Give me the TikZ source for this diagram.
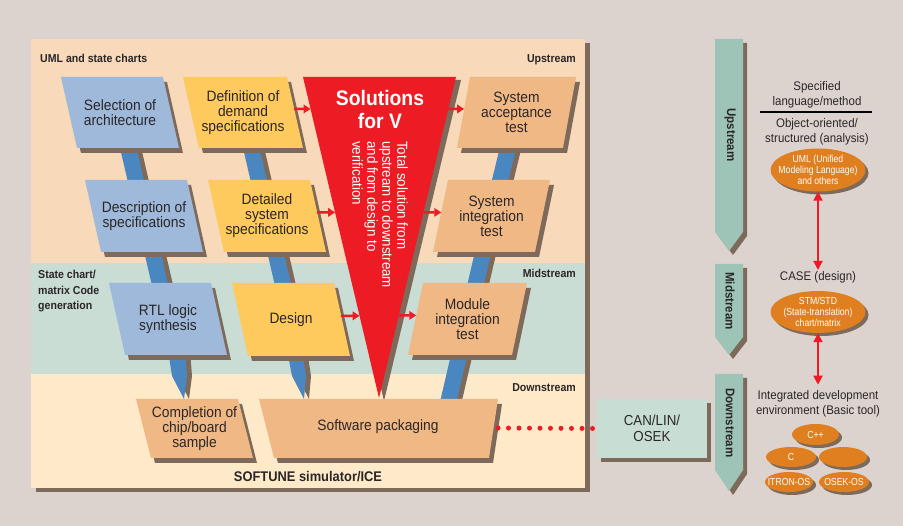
\documentclass[tikz,border=0pt]{standalone}
\usepackage{fontspec}
\setmainfont{Liberation Sans}[FakeStretch=0.92]
\newfontfamily\ovalfont{Liberation Sans}[FakeStretch=0.85]
\usetikzlibrary{shapes.geometric,arrows.meta,shadows}
\definecolor{pagegrey}{HTML}{DCD3CF}
\definecolor{upband}{HTML}{F8D9B9}
\definecolor{midband}{HTML}{C9DDD5}
\definecolor{downband}{HTML}{FEEAC9}
\definecolor{archblue}{HTML}{9FB9DB}
\definecolor{specyellow}{HTML}{FEC95D}
\definecolor{testorange}{HTML}{F0B884}
\definecolor{shadowbrown}{HTML}{7D6A5B}
\definecolor{barblue}{HTML}{4A87C1}
\definecolor{vred}{HTML}{ED1C24}
\definecolor{streamteal}{HTML}{9DC4B6}
\definecolor{busgreen}{HTML}{C8DDD4}
\definecolor{ovalorange}{HTML}{E07F1F}
\definecolor{inkgrey}{HTML}{2A2627}
\pgfdeclarelayer{bands}
\pgfdeclarelayer{bars}
\pgfsetlayers{bands,bars,main}
% name, x, y (top left), width, height, slant of the bottom, colour, text
\newcommand{\slantbox}[8]{%
  \fill[shadowbrown,shift={(4,5)}] (#2,#3) -- ++(#4,0) -- ++(#6,#5) -- ++(-#4,0) -- cycle;
  \fill[#7] (#2,#3) -- ++(#4,0) -- ++(#6,#5) -- ++(-#4,0) -- cycle;
  \node[boxtext] (#1) at ({#2+0.5*#4+0.5*(#6)},{#3+0.5*#5}) {#8};
  \coordinate (#1-e) at ({#2+#4+0.45*(#6)},{#3+0.45*#5});
  \coordinate (#1-w) at ({#2+0.45*(#6)},{#3+0.45*#5});
}

\begin{document}
\begin{tikzpicture}[x=1pt,y=-1pt,
  boxtext/.style={align=center, inner sep=0pt, text=inkgrey, font=\fontsize{15}{15}\selectfont},
  bandlabel/.style={inner sep=0pt, text=inkgrey, font=\fontsize{11.5}{15.5}\selectfont\bfseries},
  streamlabel/.style={rotate=-90, inner sep=0pt, text=inkgrey, font=\fontsize{12.5}{14}\selectfont\bfseries},
  notetext/.style={align=center, inner sep=1pt, text=inkgrey, font=\fontsize{12.5}{14.5}\selectfont},
  bar/.style={draw=barblue, line width=16pt},
  barshadow/.style={draw=shadowbrown, line width=16pt, transform canvas={shift={(5pt,-1pt)}}},
  linkarrow/.style={draw=vred, line width=2.4pt, -{Triangle[length=7pt,width=8.5pt]}},
  dblarrow/.style={draw=vred, line width=2pt, {Triangle[length=9pt,width=9pt]}-{Triangle[length=9pt,width=9pt]}},
  dotline/.style={draw=vred, line width=5pt, line cap=round, dash pattern=on 0pt off 10.5pt},
  tooloval/.style={ellipse, fill=ovalorange, inner sep=0pt, general shadow={fill=shadowbrown, shadow xshift=3pt, shadow yshift=-3pt}},
  ovaltext/.style={align=center, inner sep=0pt, text=white, font=\ovalfont\fontsize{10.2}{11}\selectfont},
  busbox/.style={rectangle, fill=busgreen, minimum width=110pt, minimum height=59pt, align=center, text=inkgrey, font=\fontsize{14.5}{16}\selectfont, general shadow={fill=shadowbrown, shadow xshift=4pt, shadow yshift=-4pt}}
]
\begin{pgfonlayer}{bands}
\fill[pagegrey] (0,0) rectangle (903,526);
\fill[shadowbrown] (36,43) rectangle (590,492);
\fill[upband] (31,39) rectangle (585,263);
\fill[midband] (31,263) rectangle (585,374);
\fill[downband] (31,374) rectangle (585,488);
\end{pgfonlayer}

\node[bandlabel, anchor=west] (umllbl) at (40,58) {UML and state charts};
\node[bandlabel, anchor=east] (uplbl) at (576,60) {Upstream};
\node[bandlabel, anchor=north west, align=left] (codelbl) at (38,270) {State chart/\\matrix Code\\generation};
\node[bandlabel, anchor=east] (midlbl) at (576,273) {Midstream};
\node[bandlabel, anchor=east] (downlbl) at (576,388) {Downstream};
\node[inner sep=0pt, text=inkgrey, font=\fontsize{14}{16}\selectfont\bfseries] (simlbl) at (308,477) {SOFTUNE simulator/ICE};

\fill[shadowbrown,shift={(5,3)}] (303,77) -- (456,77) -- (379,398) -- cycle;
\fill[vred] (303,77) -- (456,77) -- (379,398) -- cycle;
\node[align=center, inner sep=0pt, text=white, font=\fontsize{21}{23}\selectfont\bfseries] (soltitle) at (380,109) {Solutions\\for V};
\node[rotate=-90, anchor=west, align=left, inner sep=0pt, text=white, font=\fontsize{14.5}{15}\selectfont] (soldesc) at (380,141) {Total solution from\\upstream to downstream\\and from design to\\verification};

\slantbox{selarch}{61}{77}{102}{71}{16}{archblue}{Selection of\\architecture}
\slantbox{defdem}{183}{77}{104}{71}{16}{specyellow}{Definition of\\demand\\specifications}
\slantbox{descspec}{85}{180}{102}{72}{16}{archblue}{Description of\\specifications}
\slantbox{detspec}{208}{180}{102}{72}{16}{specyellow}{Detailed\\system\\specifications}
\slantbox{rtlsyn}{109}{283}{102}{72}{16}{archblue}{RTL logic\\synthesis}
\slantbox{design}{232}{283}{102}{73}{16}{specyellow}{Design}
\slantbox{chipboard}{136}{399}{102}{59}{15}{testorange}{Completion of\\chip/board\\sample}
\slantbox{sysacc}{470}{77}{106}{71}{-13}{testorange}{System\\acceptance\\test}
\slantbox{sysint}{448}{180}{102}{72}{-15}{testorange}{System\\integration\\test}
\slantbox{modint}{423}{283}{104}{72}{-15}{testorange}{Module\\integration\\test}

\fill[shadowbrown,shift={(4,5)}] (259,399) -- (498,399) -- (489,458) -- (274,458) -- cycle;
\fill[testorange] (259,399) -- (498,399) -- (489,458) -- (274,458) -- cycle;
\node[boxtext] (swpack) at (378,427) {Software packaging};
\coordinate (swpack-e) at (498,428);
\coordinate (sysfoot) at (444,420);

\begin{pgfonlayer}{bars}
\draw[barshadow] (selarch) -- (descspec) -- (rtlsyn);
\draw[bar] (selarch) -- (descspec) -- (rtlsyn);
\draw[barshadow] (defdem) -- (detspec) -- (design);
\draw[bar] (defdem) -- (detspec) -- (design);
\draw[barshadow] (sysacc) -- (sysint) -- (modint) -- (sysfoot);
\draw[bar] (sysacc) -- (sysint) -- (modint) -- (sysfoot);
\fill[shadowbrown,shift={(5,0)}] (168,350) -- (185,350) -- (187,376) -- (184,399) -- (172,376) -- cycle;
\fill[barblue] (168,350) -- (185,350) -- (187,376) -- (184,399) -- (172,376) -- cycle;
\fill[shadowbrown,shift={(5,0)}] (287,350) -- (302,350) -- (306,376) -- (304,399) -- (292,376) -- cycle;
\fill[barblue] (287,350) -- (302,350) -- (306,376) -- (304,399) -- (292,376) -- cycle;
\end{pgfonlayer}

\coordinate (vin1) at (310.6,108.95);
\coordinate (vin2) at (335.1,212.4);
\coordinate (vin3) at (359.6,315.85);
\coordinate (vout1) at (448.3,108.95);
\coordinate (vout2) at (423.5,212.4);
\coordinate (vout3) at (398.8,315.4);
\draw[linkarrow] (defdem-e) -- (vin1);
\draw[linkarrow] (detspec-e) -- (vin2);
\draw[linkarrow] (design-e) -- (vin3);
\draw[linkarrow] (vout1) -- (sysacc-w);
\draw[linkarrow] (vout2) -- (sysint-w);
\draw[linkarrow] (vout3) -- (modint-w);

\node[busbox] (canbus) at (652,428.5) {CAN/LIN/\\OSEK};
\draw[dotline] (swpack-e) -- (canbus.west);

\fill[shadowbrown,shift={(4,4)}] (715,39) -- (743,39) -- (743,232) -- (729,251) -- (715,232) -- cycle;
\fill[streamteal] (715,39) -- (743,39) -- (743,232) -- (729,251) -- (715,232) -- cycle;
\fill[shadowbrown,shift={(4,4)}] (715,264) -- (743,264) -- (743,337) -- (729,355) -- (715,337) -- cycle;
\fill[streamteal] (715,264) -- (743,264) -- (743,337) -- (729,355) -- (715,337) -- cycle;
\fill[shadowbrown,shift={(4,4)}] (715,374) -- (743,374) -- (743,470) -- (729,491) -- (715,470) -- cycle;
\fill[streamteal] (715,374) -- (743,374) -- (743,470) -- (729,491) -- (715,470) -- cycle;
\node[streamlabel] (upstr) at (730,135) {Upstream};
\node[streamlabel] (midstr) at (730,301) {Midstream};
\node[streamlabel] (downstr) at (730,423) {Downstream};

\node[notetext] (specmeth) at (817,95) {Specified\\language/method};
\draw[line width=1.6pt, black] (760,112) -- (872,112);
\node[notetext] (objor) at (817,132) {Object-oriented/\\structured (analysis)};
\node[tooloval, minimum width=95pt, minimum height=43pt, label={[ovaltext]center:{UML (Unified\\Modeling Language)\\and others}}] (umloval) at (818,170) {};
\node[notetext] (casedes) at (818,277) {CASE (design)};
\node[tooloval, minimum width=95pt, minimum height=42pt, label={[ovaltext]center:{STM/STD\\(State-translation)\\chart/matrix}}] (stmoval) at (818,312) {};
\node[notetext] (idetool) at (818,404) {Integrated development\\environment (Basic tool)};
\draw[dblarrow] (umloval.south) -- (casedes.north);
\draw[dblarrow] (stmoval.south) -- ([yshift=5pt]idetool.north);

\node[tooloval, minimum width=47pt, minimum height=21pt, label={[ovaltext]center:C++}] (cpp) at (815.5,434.5) {};
\node[tooloval, minimum width=50pt, minimum height=20pt, label={[ovaltext]center:C}] (clang) at (791,457) {};
\node[tooloval, minimum width=48pt, minimum height=20pt] (blankoval) at (843,457) {};
\node[tooloval, minimum width=48pt, minimum height=20pt, label={[ovaltext]center:ITRON-OS}] (itronos) at (789,482) {};
\node[tooloval, minimum width=50pt, minimum height=20pt, label={[ovaltext]center:OSEK-OS}] (osekos) at (844,482) {};
\end{tikzpicture}
\end{document}
